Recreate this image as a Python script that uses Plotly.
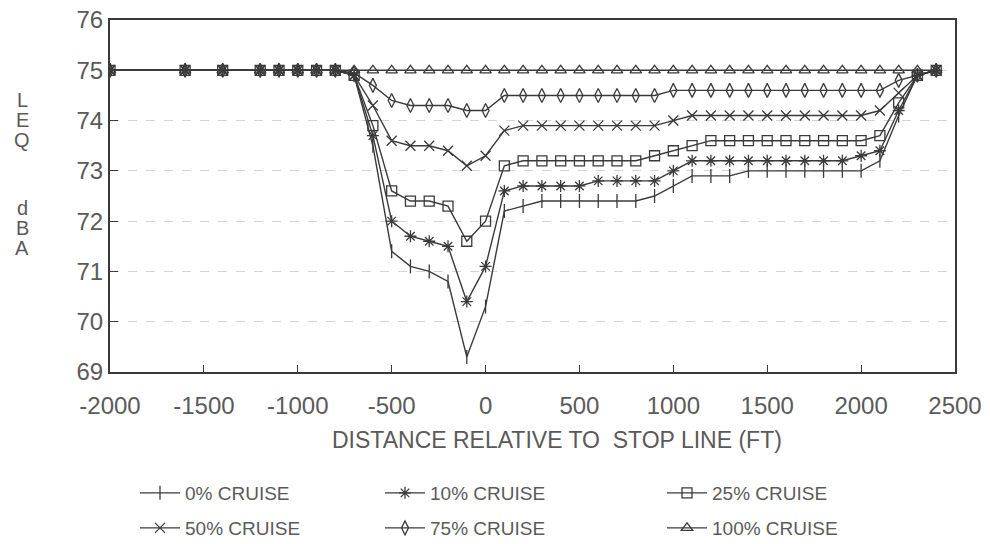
import plotly.graph_objects as go

# ---- data ----
distance_ft = [-2000, -1600, -1400, -1200, -1100, -1000, -900, -800,
               -700, -600, -500, -400, -300, -200, -100, 0,
               100, 200, 300, 400, 500, 600, 700, 800, 900, 1000,
               1100, 1200, 1300, 1400, 1500, 1600, 1700, 1800, 1900, 2000,
               2100, 2200, 2300, 2400]

flat_start = [75, 75, 75, 75, 75, 75, 75, 75]

cruise_0 = flat_start + [74.9, 73.5, 71.4, 71.1, 71.0, 70.8, 69.3, 70.3,
                         72.2, 72.3, 72.4, 72.4, 72.4, 72.4, 72.4, 72.4, 72.5, 72.7,
                         72.9, 72.9, 72.9, 73.0, 73.0, 73.0, 73.0, 73.0, 73.0, 73.0,
                         73.2, 74.1, 74.9, 75.0]
cruise_10 = flat_start + [74.9, 73.7, 72.0, 71.7, 71.6, 71.5, 70.4, 71.1,
                          72.6, 72.7, 72.7, 72.7, 72.7, 72.8, 72.8, 72.8, 72.8, 73.0,
                          73.2, 73.2, 73.2, 73.2, 73.2, 73.2, 73.2, 73.2, 73.2, 73.3,
                          73.4, 74.2, 74.9, 75.0]
cruise_25 = flat_start + [74.9, 73.9, 72.6, 72.4, 72.4, 72.3, 71.6, 72.0,
                          73.1, 73.2, 73.2, 73.2, 73.2, 73.2, 73.2, 73.2, 73.3, 73.4,
                          73.5, 73.6, 73.6, 73.6, 73.6, 73.6, 73.6, 73.6, 73.6, 73.6,
                          73.7, 74.35, 74.9, 75.0]
cruise_50 = flat_start + [74.9, 74.3, 73.6, 73.5, 73.5, 73.4, 73.1, 73.3,
                          73.8, 73.9, 73.9, 73.9, 73.9, 73.9, 73.9, 73.9, 73.9, 74.0,
                          74.1, 74.1, 74.1, 74.1, 74.1, 74.1, 74.1, 74.1, 74.1, 74.1,
                          74.2, 74.55, 74.9, 75.0]
cruise_75 = flat_start + [74.95, 74.7, 74.4, 74.3, 74.3, 74.3, 74.2, 74.2,
                          74.5, 74.5, 74.5, 74.5, 74.5, 74.5, 74.5, 74.5, 74.5, 74.6,
                          74.6, 74.6, 74.6, 74.6, 74.6, 74.6, 74.6, 74.6, 74.6, 74.6,
                          74.6, 74.8, 74.9, 75.0]
cruise_100 = flat_start + [75.0, 75.0, 75.0, 75.0, 75.0, 75.0, 75.0, 75.0,
                           75.0, 75.0, 75.0, 75.0, 75.0, 75.0, 75.0, 75.0, 75.0, 75.0,
                           75.0, 75.0, 75.0, 75.0, 75.0, 75.0, 75.0, 75.0, 75.0, 75.0,
                           75.0, 75.0, 75.0, 75.0]

series_names = ["0% CRUISE", "10% CRUISE", "25% CRUISE",
                "50% CRUISE", "75% CRUISE", "100% CRUISE"]
series_values = [cruise_0, cruise_10, cruise_25, cruise_50, cruise_75, cruise_100]
series_symbols = ["line-ns-open", "asterisk-open", "square-open",
                  "x-thin-open", "diamond-tall-open", "triangle-up-open"]

x_ticks = [-2000, -1500, -1000, -500, 0, 500, 1000, 1500, 2000, 2500]
x_tick_text = ["-2000", "-1500", "-1000", "-500", "0", "500", "1000", "1500", "2000", "2500"]
y_ticks = [69, 70, 71, 72, 73, 74, 75, 76]

# ---- layout constants ----
W, H = 990, 544
ML, MR, MT, MB = 110, 35, 20, 172
LINE = "#3a3a3a"
TEXT = "#5a5a5a"
FONT = "Liberation Sans"

plot_h = H - MT - MB
plot_w = W - ML - MR

def py(pix):
    return (H - MB - pix) / plot_h

def px(pix):
    return (pix - ML) / plot_w

# legend slot pixel positions (left of symbol, row centre)
legend_slots = [(135, 493), (380, 493), (662, 493),
                (135, 528), (380, 528), (662, 528)]

fig = go.Figure()
legend_layout = {}
for i, (name, vals, sym) in enumerate(zip(series_names, series_values, series_symbols)):
    leg_id = "legend" if i == 0 else f"legend{i + 1}"
    fig.add_trace(go.Scatter(
        x=distance_ft, y=vals, name=name, mode="lines+markers",
        line=dict(color=LINE, width=1.4),
        marker=dict(symbol=sym, size=10, color=LINE, line=dict(color=LINE, width=1.3)),
        legend=leg_id,
    ))
    lx, ly = legend_slots[i]
    legend_layout[leg_id] = dict(
        x=px(lx), y=py(ly), xanchor="left", yanchor="middle",
        orientation="h", bgcolor="rgba(0,0,0,0)", itemwidth=40,
        font=dict(family=FONT, size=19, color=TEXT))

annotations = []
for letter, ypix in [("L", 100), ("E", 120), ("Q", 140), ("d", 208), ("B", 228), ("A", 248)]:
    annotations.append(dict(text=letter, xref="paper", yref="paper", x=px(22), y=py(ypix),
                            xanchor="center", yanchor="middle", showarrow=False,
                            font=dict(family=FONT, size=20, color=TEXT)))

annotations.append(dict(text="DISTANCE RELATIVE TO  STOP LINE (FT)", xref="paper", yref="paper",
                        x=px(557), y=py(440), xanchor="center", yanchor="middle", showarrow=False,
                        font=dict(family=FONT, size=23, color=TEXT)))

fig.update_layout(
    width=W, height=H,
    margin=dict(l=ML, r=MR, t=MT, b=MB, autoexpand=False),
    paper_bgcolor="white", plot_bgcolor="white",
    showlegend=True,
    annotations=annotations,
    xaxis=dict(range=[-2000, 2500], tickvals=x_ticks, ticktext=x_tick_text,
               ticks="inside", ticklen=7,
               tickcolor=LINE, showgrid=False, zeroline=False, ticklabelstandoff=11,
               showline=True, linecolor=LINE, linewidth=2, mirror=True,
               tickfont=dict(family=FONT, size=24, color=TEXT)),
    yaxis=dict(range=[69, 76], tickvals=y_ticks, ticks="inside", ticklen=8,
               tickcolor=LINE, showgrid=True, gridcolor="#d4d4d4", griddash="dash",
               gridwidth=1, zeroline=False,
               showline=True, linecolor=LINE, linewidth=2, mirror=True,
               tickfont=dict(family=FONT, size=24, color=TEXT)),
    **legend_layout,
)

fig.write_html("out.html")
